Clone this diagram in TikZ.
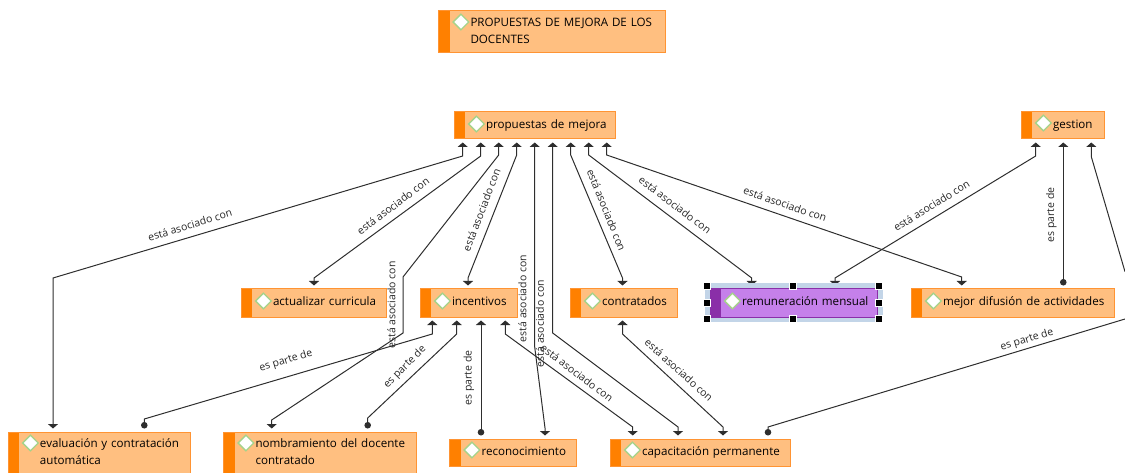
\documentclass[tikz,border=0pt]{standalone}
\usepackage{fontspec}
\setmainfont{Open Sans}
\usetikzlibrary{arrows.meta}
\pgfdeclarelayer{edges}
\pgfsetlayers{edges,main}
\definecolor{cfill}{HTML}{FFBF80}
\definecolor{cline}{HTML}{FF9433}
\definecolor{cstripe}{HTML}{FF8000}
\definecolor{pfill}{HTML}{C580EA}
\definecolor{pline}{HTML}{8A2FA8}
\definecolor{pstripe}{HTML}{8A2FA8}
\definecolor{gline}{HTML}{A5D38A}
\definecolor{selcol}{HTML}{C3D5E8}
\definecolor{edgecol}{HTML}{2E2E2E}
\tikzset{
  tri/.tip={Triangle[width=10pt,length=4.5pt]},
  dotend/.tip={Circle[length=6.5pt]},
  dmy/.store in=\dmy, dmy=11,
  concept/.style={rectangle,draw=#1line,fill=#1fill,line width=1pt,anchor=north west,outer sep=0pt,
    inner xsep=0pt,inner ysep=0pt,align=left,text=black,
    font=\fontsize{11.6}{17}\selectfont,
    path picture={
      \fill[#1stripe] (path picture bounding box.north west) rectangle ([shift={(11,0)}]path picture bounding box.south west);
      \draw[gline,fill=white,line width=1.3pt]
        ([shift={(14.6,\dmy)}]path picture bounding box.north west) --
        ([shift={(22.4,\dmy-7.8)}]path picture bounding box.north west) --
        ([shift={(30.2,\dmy)}]path picture bounding box.north west) --
        ([shift={(22.4,\dmy+7.8)}]path picture bounding box.north west) -- cycle;
    }},
  edge/.style={draw=edgecol,line width=1pt},
  lbl/.style={inner sep=0pt,text=black!85,font=\fontsize{10.5}{12}\selectfont},
  handle/.style={rectangle,fill=black,draw=white,line width=.8pt,minimum size=6.5pt,inner sep=0pt},
  selbox/.style={rectangle,fill=selcol,draw=none,anchor=north west,inner sep=0pt,minimum width=178pt,minimum height=39pt}
}
\newcommand{\one}[2]{\hspace*{32pt}\rule[-#1pt]{0pt}{\dimexpr16.3pt+#1pt\relax}#2}
\newcommand{\two}[3]{\hspace*{32pt}\rule{0pt}{15.5pt}#1\\\hspace*{32pt}\rule[-#3pt]{0pt}{#3pt}#2}
\begin{document}
\begin{tikzpicture}[x=1pt,y=-1pt]
\useasboundingbox (0,0) rectangle (1125,473);

\node[concept=c,text width=226.5pt] (title) at (438.5,11) {\two{PROPUESTAS DE MEJORA DE LOS}{DOCENTES}{9.5}};
\node[concept=c,dmy=12,text width=161.5pt] (prop) at (454,112) {\one{10.7}{propuestas de mejora}};
\node[concept=c,text width=83.5pt] (gest) at (1021,112) {\one{10.7}{gestion}};
\node[concept=c,dmy=12,text width=145pt] (actu) at (241,289) {\one{11.7}{actualizar curricula}};
\node[concept=c,dmy=12,text width=97pt] (ince) at (420,289) {\one{11.7}{incentivos}};
\node[concept=c,dmy=12,text width=107pt] (cont) at (570,289) {\one{11.7}{contratados}};
\node[selbox] (sel) at (705,283) {};
\node[concept=p,dmy=12,text width=167.7pt] (remu) at (710,289) {\one{11.7}{remuneración mensual}};
\node[concept=c,dmy=12,text width=203.5pt] (mejo) at (911,289) {\one{11.7}{mejor difusión de actividades}};
\node[concept=c,text width=182pt] (eval) at (8,432) {\two{evaluación y contratación}{automática}{8.5}};
\node[concept=c,text width=192.5pt] (nomb) at (223.5,432) {\two{nombramiento del docente}{contratado}{8.5}};
\node[concept=c,text width=127pt] (reco) at (449.5,439) {\one{11.2}{reconocimiento}};
\node[concept=c,text width=180.5pt] (capa) at (610,439) {\one{11.2}{capacitación permanente}};

\foreach \i/\x/\y in {1/706.7/286,2/793/286,3/879/286,4/706.7/302.7,5/879/302.7,6/706.7/319,7/793/319,8/879/319}
  \node[handle] (h\i) at (\x,\y) {};

\coordinate (rimA) at (1125,271.7);
\coordinate (rimB) at (1125,319);

\begin{pgfonlayer}{edges}
\draw[edge,tri-tri] ([shift={(8.7,3.5)}]prop.south west) -- (462.7,156) -- (53,278) -- ([shift={(45,-3.5)}]eval.north west);
\draw[edge,tri-tri] ([shift={(26.7,3.5)}]prop.south west) -- (480.7,156) -- (314,278) -- ([shift={(73,-3.5)}]actu.north west);
\draw[edge,tri-tri] ([shift={(44.7,3.5)}]prop.south west) -- (498.7,155) -- (403,277) -- (403,333) -- (271.7,420) -- ([shift={(48.2,-3.5)}]nomb.north west);
\draw[edge,tri-tri] ([shift={(62.7,3.5)}]prop.south west) -- (516.7,155) -- (468,278) -- ([shift={(48,-3.5)}]ince.north west);
\draw[edge,tri-tri] ([shift={(80.7,3.5)}]prop.south west) -- (534.7,347) -- (545,428) -- ([shift={(95.5,-3.5)}]reco.north west);
\draw[edge,tri-tri] ([shift={(98.7,3.5)}]prop.south west) -- (552.7,333) -- (678,427) -- ([shift={(68,-3.5)}]capa.north west);
\draw[edge,tri-tri] ([shift={(116.7,3.5)}]prop.south west) -- (570.7,155) -- (622.5,278) -- ([shift={(52.5,-3.5)}]cont.north west);
\draw[edge,tri-tri] ([shift={(134.7,3.5)}]prop.south west) -- (588.7,155) -- (751.7,278) -- ([shift={(41.7,-3.5)}]remu.north west);
\draw[edge,tri-tri] ([shift={(152.7,3.5)}]prop.south west) -- (606.7,155) -- (961.7,277) -- ([shift={(50.7,-3.5)}]mejo.north west);
\draw[edge,tri-tri] ([shift={(14.7,3.5)}]gest.south west) -- (1035.7,156) -- (835,278) -- ([shift={(125,-3.5)}]remu.north west);
\draw[edge,tri-dotend] ([shift={(42.3,3.5)}]gest.south west) -- ([shift={(152.3,-3.5)}]mejo.north west);
\draw[edge,tri-] ([shift={(70.3,3.5)}]gest.south west) -- (1091.3,156.7) -- (rimA);
\draw[edge,-dotend] (rimB) -- (768,427) -- ([shift={(158,-3.5)}]capa.north west);
\draw[edge,tri-dotend] ([shift={(12.3,3.5)}]ince.south west) -- (432.3,334) -- (144.3,419) -- ([shift={(136.3,-3.5)}]eval.north west);
\draw[edge,tri-dotend] ([shift={(36.7,3.5)}]ince.south west) -- (456.7,334) -- (367.7,418) -- ([shift={(144.2,-3.5)}]nomb.north west);
\draw[edge,tri-dotend] ([shift={(61,3.5)}]ince.south west) -- ([shift={(31.5,-3.5)}]reco.north west);
\draw[edge,tri-tri] ([shift={(85.3,3.5)}]ince.south west) -- (505.3,334) -- (632.7,427) -- ([shift={(22.7,-3.5)}]capa.north west);
\draw[edge,tri-tri] ([shift={(52.5,3.5)}]cont.south west) -- (622.5,334) -- (723,427) -- ([shift={(113,-3.5)}]capa.north west);
\end{pgfonlayer}

\node[lbl,rotate=17] (l1) at (190,225) {está asociado con};
\node[lbl,rotate=37] (l2) at (393,206) {está asociado con};
\node[lbl,rotate=90] (l3) at (391.5,305) {está asociado con};
\node[lbl,rotate=69] (l4) at (481.5,210) {está asociado con};
\node[lbl,rotate=90] (l5) at (522.5,298.5) {está asociado con};
\node[lbl,rotate=90] (l6) at (540,323.5) {está asociado con};
\node[lbl,rotate=-68] (l7) at (606.5,210) {está asociado con};
\node[lbl,rotate=-37] (l8) at (675,205) {está asociado con};
\node[lbl,rotate=-19] (l9) at (785,204) {está asociado con};
\node[lbl,rotate=32] (l10) at (931.5,205.5) {está asociado con};
\node[lbl,rotate=90] (l11) at (1051.5,215) {es parte de};
\node[lbl,rotate=17] (l12) at (1027,340) {es parte de};
\node[lbl,rotate=17] (l13) at (286,361) {es parte de};
\node[lbl,rotate=45] (l14) at (405,367) {es parte de};
\node[lbl,rotate=90] (l15) at (469,378) {es parte de};
\node[lbl,rotate=-37] (l16) at (577,373) {está asociado con};
\node[lbl,rotate=-42] (l17) at (679,370) {está asociado con};
\end{tikzpicture}
\end{document}
